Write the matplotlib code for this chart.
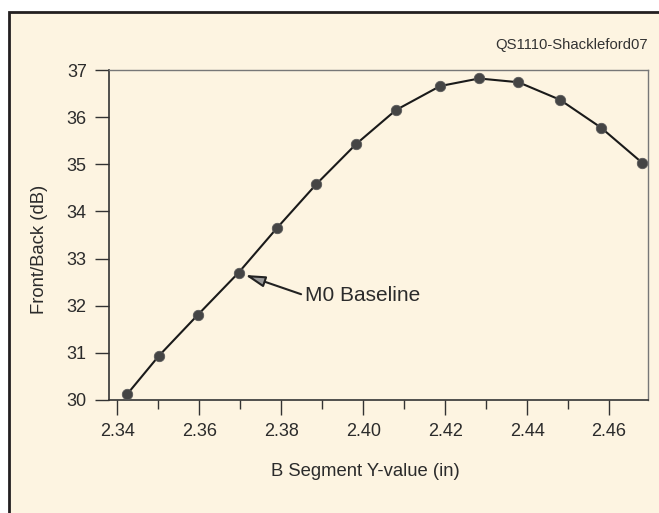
import matplotlib
matplotlib.use("Agg")
import matplotlib.pyplot as plt
from matplotlib.patches import Rectangle
from matplotlib.ticker import MultipleLocator

plt.rcParams['font.family'] = ['Liberation Sans', 'DejaVu Sans']

# B segment Y-value (in) and front/back ratio (dB)
b_y = [2.3425, 2.3501, 2.3596, 2.3696, 2.3789, 2.3886, 2.3983,
       2.4080, 2.4188, 2.4283, 2.4379, 2.4480, 2.4580, 2.4681]
fb = [30.13, 30.93, 31.80, 32.70, 33.64, 34.58, 35.43,
      36.15, 36.66, 36.82, 36.74, 36.37, 35.78, 35.03]
x_ticks = [2.34, 2.36, 2.38, 2.40, 2.42, 2.44, 2.46]
y_ticks = [30, 31, 32, 33, 34, 35, 36, 37]
baseline_idx = 3

cream = '#FDF4E1'
ink = '#2b2b2b'

fig = plt.figure(figsize=(6.59, 5.13), dpi=100)
fig.patch.set_facecolor('white')

# cream panel with dark border, running off the right and bottom edges
panel = Rectangle((9 / 659, -0.1), 1.2, 1.1 - 12 / 513,
                  transform=fig.transFigure, facecolor=cream,
                  edgecolor='#231F20', linewidth=2.0, zorder=-5)
fig.patches.append(panel)

ax = fig.add_axes([109 / 659, 113 / 513, 539 / 659, 330 / 513])
ax.set_zorder(2)
ax.set_facecolor(cream)

ax.plot(b_y, fb, color='#1a1a1a', lw=1.5, zorder=2, solid_joinstyle='round')
ax.plot(b_y, fb, 'o', ms=7.5, color='#454545', mec='#5a5a5a', mew=0.6, zorder=3)

ax.set_xlim(2.338, 2.4695)
ax.set_ylim(30, 37)
ax.set_xticks(x_ticks)
ax.set_xticklabels([f'{v:.2f}' for v in x_ticks])
ax.xaxis.set_minor_locator(MultipleLocator(0.01))
ax.set_yticks(y_ticks)

for side in ['left', 'bottom']:
    ax.spines[side].set_color('#333333')
    ax.spines[side].set_linewidth(1.2)
for side in ['top', 'right']:
    ax.spines[side].set_color('#777777')
    ax.spines[side].set_linewidth(1.0)

ax.tick_params(axis='y', which='major', direction='out', length=10, width=1,
               color='#333333', labelsize=13, labelcolor=ink, pad=6)
ax.tick_params(axis='x', which='major', direction='out', length=10.5, width=1,
               color='#333333', labelsize=13, labelcolor=ink, pad=6)
ax.tick_params(axis='x', which='minor', direction='out', length=6.5, width=1,
               color='#333333')

ax.set_xlabel('B Segment Y-value (in)', fontsize=13.3, color=ink)
ax.xaxis.set_label_coords(0.475, -0.19)
ax.set_ylabel('Front/Back (dB)', fontsize=13.3, color=ink)
ax.yaxis.set_label_coords(-0.113, 0.455)

ax.text(1.0, 1.075, 'QS1110-Shackleford07', transform=ax.transAxes,
        ha='right', va='center', fontsize=10.7, color='#333333')

ax.annotate('M0 Baseline', xy=(b_y[baseline_idx], fb[baseline_idx]),
            xytext=(48, -16.5), textcoords='offset points',
            ha='left', va='center', fontsize=15, color=ink,
            arrowprops=dict(arrowstyle='-|>,head_length=0.8,head_width=0.22',
                            color='#222222', lw=1.5, shrinkA=1, shrinkB=5,
                            relpos=(0, 0.5), fc='#9a9a9a'))

fig.savefig('out.png', dpi=100, facecolor=fig.get_facecolor())
